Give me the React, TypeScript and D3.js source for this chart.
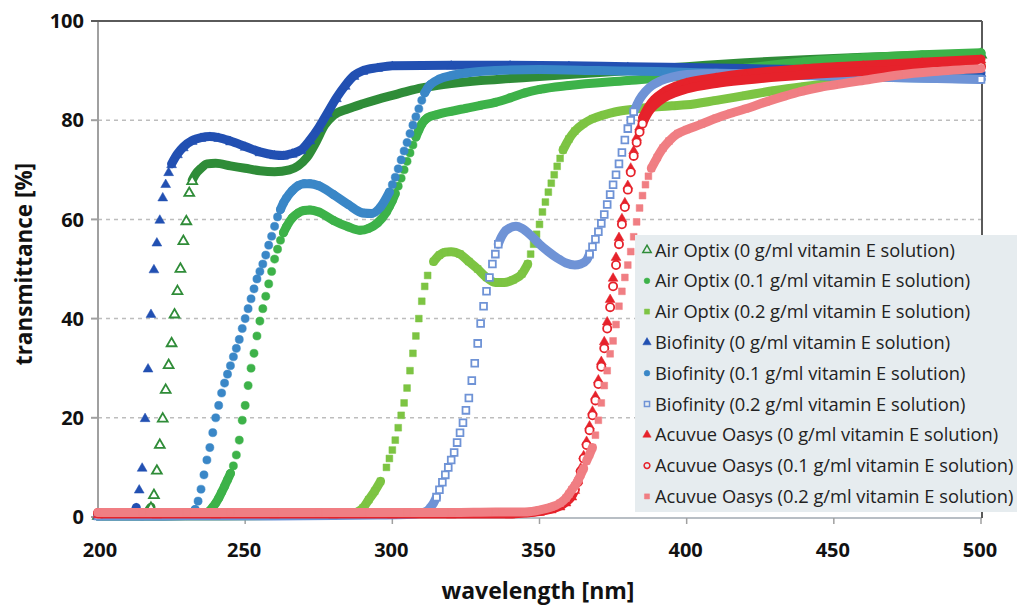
import React from 'react';
import * as d3 from 'd3';

type Pt = [number, number];

// wavelength [nm], transmittance [%]
const airOptix0: Pt[] = [[200,0.4],[210,0.4],[214,0.5],[216,0.8],[217,1.2],[218,2],[219,4.6],[220,9.5],[221,14.7],[222,20],[223,25.8],[224,30.8],[225,35.2],[226,41],[227,45.7],[228,50.2],[229,55.8],[230,59.8],[231,65.5],[232,67.9],[233,69],[235,70.3],[237,71.2],[240,71.3],[245,70.8],[250,70.3],[255,69.8],[260,69.6],[265,70],[268,70.8],[271,72.5],[274,75.5],[277,79],[280,81],[285,82.3],[290,83.3],[295,84.2],[300,85],[305,85.8],[310,86.5],[315,87],[320,87.4],[330,88],[340,88.4],[350,88.8],[360,89.2],[380,90],[400,90.8],[420,91.6],[440,92.2],[460,92.7],[480,93.1],[500,93.4]];

const airOptix01: Pt[] = [[200,0.2],[215,0.2],[230,0.3],[236,0.5],[237,0.8],[238,1.3],[239,2],[240,2.8],[241,3.8],[242,5],[243,6.2],[244,7.5],[245,8.8],[246,10.3],[247,12.5],[248,15.5],[249,19.5],[250,22.5],[251,26.5],[252,30],[253,33],[254,36.5],[255,39.5],[256,42],[257,44.5],[258,47],[259,49.5],[260,52],[261,54],[262,55.8],[263,57.3],[264,58.5],[266,60.3],[268,61.3],[270,61.8],[272,61.9],[275,61.5],[280,59.8],[285,58.5],[289,57.8],[292,58.2],[295,59.3],[298,61.5],[299,62.6],[300,63.8],[301,65.2],[302,66.7],[303,68.3],[304,70],[305,71.7],[306,73.4],[307,75],[308,76.6],[309,78],[310,79.2],[311,80],[312,80.5],[315,81.1],[320,81.8],[325,82.4],[330,83],[335,83.6],[340,84.5],[345,85.5],[350,86.2],[360,87],[380,88],[400,89],[420,90.5],[440,91.8],[460,92.6],[480,93.2],[500,93.6]];

const airOptix02: Pt[] = [[200,0.2],[220,0.2],[240,0.2],[260,0.3],[275,0.4],[285,0.6],[288,1],[290,1.8],[292,3.5],[294,5.2],[296,7.2],[298,10],[299,11.8],[300,13.5],[301,15.5],[302,18],[303,20.5],[304,23],[305,26],[306,29.5],[307,33],[308,36.5],[309,40],[310,43.5],[311,46.5],[312,48.7],[314,51.5],[316,52.8],[318,53.4],[320,53.5],[323,53],[326,51.5],[329,50],[332,48.3],[335,47.3],[338,47.3],[341,47.8],[344,49],[346,51],[347,53],[348,55],[349,57],[350,59],[351,61.5],[352,63.5],[353,65.5],[354,67.3],[355,69],[356,70.7],[357,72.3],[358,74],[360,76.2],[362,77.8],[365,79.3],[368,80.3],[372,81.1],[376,81.7],[382,82.2],[388,82.6],[395,82.9],[400,83.1],[410,84],[420,85],[430,86],[440,86.8],[450,87.5],[460,88.3],[470,89.1],[480,89.8],[490,90.5],[500,91.2]];

const biofinity0: Pt[] = [[200,0.3],[210,0.3],[212,0.6],[213,1.9],[214,5.6],[215,10],[216,20],[217,30],[218,41],[219,50],[220,55.4],[221,60],[222,64.5],[223,67.2],[224,69.6],[225,71.2],[227,73.2],[229,74.6],[232,75.9],[235,76.5],[238,76.7],[241,76.5],[245,75.8],[250,74.7],[255,73.6],[260,73],[263,72.9],[266,73.3],[269,74],[272,76],[275,78.5],[278,81.5],[281,84.5],[284,87],[287,89],[290,90],[295,90.6],[300,91],[320,91.1],[340,91.1],[360,91],[380,90.8],[400,90.6],[420,90.4],[440,90.2],[460,90],[480,89.8],[500,89.6]];

const biofinity01: Pt[] = [[200,0.2],[215,0.2],[230,0.3],[232,0.6],[233,1.5],[234,3.2],[235,5.6],[236,8.5],[237,11.5],[238,14],[239,17],[240,20],[241,22.5],[242,25],[243,27],[244,28.8],[245,30.5],[246,32.3],[247,34],[248,35.8],[249,38],[250,40],[251,42],[252,44],[253,46],[254,48],[255,49.5],[256,51],[257,52.8],[258,54.8],[259,56.6],[260,58.6],[261,60.5],[262,62],[263,63.3],[264,64.3],[266,65.8],[268,66.8],[270,67.2],[272,67.2],[275,66.8],[280,65],[285,63],[290,61.3],[293,61.2],[296,62.5],[299,65.5],[300,67],[301,68.5],[302,70.2],[303,72],[304,73.8],[305,75.5],[306,77.3],[307,79],[308,80.7],[309,82.3],[310,84],[311,85.5],[312,86.5],[313,87.2],[316,88.3],[320,89],[325,89.5],[335,90],[350,90.2],[370,90],[390,89.8],[410,89.5],[440,89],[470,88.6],[500,88.3]];

const biofinity02: Pt[] = [[200,0.2],[220,0.2],[240,0.2],[260,0.2],[280,0.3],[295,0.4],[305,0.5],[310,0.8],[312,1.3],[313,2],[314,2.8],[315,4],[316,5.5],[317,7],[318,8.5],[319,10],[320,11.5],[321,13],[322,15],[323,17],[324,19],[325,21.5],[326,24],[327,27.5],[328,31],[329,35],[330,39],[331,42.5],[332,45.5],[333,48.3],[334,51],[335,53],[336,55],[337,56.4],[338,57.4],[340,58.3],[342,58.6],[344,58.2],[347,56.8],[350,55],[353,53.5],[356,52.2],[359,51.2],[362,50.8],[364,51],[366,51.8],[367,53],[368,54.5],[369,56],[370,57.5],[371,59.2],[372,61],[373,63],[374,65],[375,67],[376,69],[377,71.2],[378,73.5],[379,76],[380,78.3],[381,80],[382,81.7],[383,83],[384,84.2],[386,85.8],[388,86.9],[391,87.9],[395,88.7],[400,89.2],[410,89.4],[430,89.2],[450,88.9],[470,88.6],[500,88.2]];

const acuvue0: Pt[] = [[200,0.6],[220,0.6],[240,0.6],[260,0.6],[280,0.6],[300,0.6],[320,0.6],[340,0.6],[345,0.8],[350,1.1],[354,1.6],[357,2.2],[359,3],[361,4.2],[362,5.5],[363,7.5],[364,10],[365,12.5],[366,15.4],[367,18.5],[368,21.5],[369,24.5],[370,27.8],[371,31.5],[372,35.5],[373,39.5],[374,44],[375,48.3],[376,52.5],[377,56.5],[378,60.3],[379,63.5],[380,67],[381,70.5],[382,74],[383,76.7],[384,78.8],[385,80.5],[387,82.7],[389,84.2],[392,85.6],[396,86.8],[400,87.6],[410,88.6],[420,89.4],[440,90.4],[460,91.1],[480,91.7],[500,92.3]];

const acuvue01: Pt[] = [[200,0.8],[220,0.8],[240,0.8],[260,0.8],[280,0.8],[300,0.8],[320,0.8],[345,0.9],[350,1.2],[354,1.7],[357,2.4],[359,3.2],[361,4.4],[362,5.5],[363,7],[364,9.2],[365,11.8],[366,14.5],[367,17.5],[368,20.5],[369,23.5],[370,26.8],[371,30.3],[372,34],[373,38],[374,42.3],[375,46.5],[376,50.8],[377,55],[378,59],[379,62.5],[380,66],[381,69.5],[382,72.8],[383,75.5],[384,77.6],[385,79.3],[387,81.6],[389,83],[392,84.4],[396,85.5],[400,86.3],[410,87.4],[420,88.1],[440,89.1],[460,89.8],[480,90.3],[500,90.8]];

const acuvue02: Pt[] = [[200,0.9],[215,0.9],[230,0.9],[245,0.9],[260,0.9],[275,0.9],[290,0.9],[305,0.9],[320,0.9],[335,1],[345,1],[350,1.4],[354,2],[357,2.8],[359,3.8],[360,4.6],[361,5.5],[362,6.3],[363,7.3],[364,8.5],[365,9.8],[366,11.3],[367,12.6],[368,14],[369,16.5],[370,19.5],[371,23],[372,26.5],[373,29.5],[374,32.9],[375,35.5],[376,38.8],[377,42.5],[378,45.5],[379,48.3],[380,50.8],[381,53.5],[382,56.5],[383,59.5],[384,62.3],[385,64.8],[386,67],[387,68.7],[388,70.3],[390,72.5],[392,74.4],[394,75.8],[397,77.3],[400,78.1],[405,79.2],[410,80.4],[415,81.4],[420,82.3],[427,83.7],[433,84.8],[439,85.8],[445,86.6],[450,87.1],[461,88.1],[472,89.1],[484,89.8],[500,90.4]];

const seriesNames = [
  'Air Optix (0 g/ml vitamin E solution)',
  'Air Optix (0.1 g/ml vitamin E solution)',
  'Air Optix (0.2 g/ml vitamin E solution)',
  'Biofinity (0 g/ml vitamin E solution)',
  'Biofinity (0.1 g/ml vitamin E solution)',
  'Biofinity (0.2 g/ml vitamin E solution)',
  'Acuvue Oasys (0 g/ml vitamin E solution)',
  'Acuvue Oasys (0.1 g/ml vitamin E solution)',
  'Acuvue Oasys (0.2 g/ml vitamin E solution)',
];
const seriesData = [airOptix0, airOptix01, airOptix02, biofinity0, biofinity01, biofinity02, acuvue0, acuvue01, acuvue02];
const seriesColors = ['#2f8c38', '#3db249', '#7dc443', '#2250b2', '#3a87c7', '#6f93d6', '#e6222b', '#e6222b', '#f07e83'];
const seriesShapes = ['triangle', 'circle', 'square', 'triangle', 'circle', 'square', 'triangle', 'circle', 'square'];
const seriesOpen = [true, false, false, false, false, true, false, true, false];

const xTicks = [200, 250, 300, 350, 400, 450, 500];
const yTicks = [0, 20, 40, 60, 80, 100];

const W = 1017, H = 605;
const left = 98, right = 981, top = 21, bottom = 517;

const x = d3.scaleLinear().domain([200, 500]).range([left, right]);
const y = d3.scaleLinear().domain([0, 100]).range([bottom, top]);

const symType: Record<string, d3.SymbolType> = {
  triangle: d3.symbolTriangle,
  circle: d3.symbolCircle,
  square: d3.symbolSquare,
};
const symSize: Record<string, number> = { triangle: 42, circle: 52, square: 46 };

const line = d3.line<Pt>().x(d => x(d[0])).y(d => y(d[1])).curve(d3.curveMonotoneX);

// split a series into runs where neighbouring markers overlap into a band
function splitRuns(pts: Pt[]) {
  const runs: Pt[][] = [];
  const joined: boolean[] = [];
  let cur: Pt[] = [pts[0]];
  for (let i = 1; i < pts.length; i++) {
    const dx = x(pts[i][0]) - x(pts[i - 1][0]);
    const dy = Math.abs(y(pts[i][1]) - y(pts[i - 1][1]));
    const j = dy < 2 * dx || Math.hypot(dx, dy) < 8;
    joined.push(j);
    if (j) cur.push(pts[i]);
    else { runs.push(cur); cur = [pts[i]]; }
  }
  runs.push(cur);
  return { runs, joined };
}

const font = "'Open Sans', 'DejaVu Sans', sans-serif";

const Series: React.FC<{ idx: number }> = ({ idx }) => {
  const pts = seriesData[idx];
  const color = seriesColors[idx];
  const shape = seriesShapes[idx];
  const open = seriesOpen[idx];
  const { runs, joined } = splitRuns(pts);
  const sym = d3.symbol().type(symType[shape]).size(symSize[shape])();
  return (
    <g>
      {runs.filter(r => r.length > 1).map((r, i) => (
        <path key={i} d={line(r) || ''} fill="none" stroke={color} strokeWidth={9}
          strokeLinecap="round" strokeLinejoin="round" />
      ))}
      {pts.map((p, i) => {
        const interior = (i > 0 && joined[i - 1]) && (i < pts.length - 1 && joined[i]);
        if (open && interior) return null;
        const dy = shape === 'triangle' ? 1 : 0;
        return (
          <path key={'m' + i} d={sym || ''} transform={`translate(${x(p[0])},${y(p[1]) + dy})`}
            fill={open ? '#fff' : color} stroke={color} strokeWidth={open ? 1.8 : 0.5} />
        );
      })}
    </g>
  );
};

export default function App() {
  const legX = 635, legY = 235, legW = 382, legH = 277, rowH = 30.8;
  return (
    <svg width={W} height={H} style={{ position: 'absolute', left: 0, top: 0, background: '#fff' }}>
      {/* grid */}
      {yTicks.filter(t => t > 0 && t < 100).map(t => (
        <line key={t} x1={left} x2={right} y1={y(t)} y2={y(t)} stroke="#bdbdbd"
          strokeWidth={1.5} strokeDasharray="4,4" />
      ))}
      {/* axes frame */}
      <line x1={left} x2={left} y1={top} y2={bottom + 2} stroke="#a0a0a0" strokeWidth={2} />
      <line x1={left} x2={right + 1} y1={bottom + 1} y2={bottom + 1} stroke="#b8bec4" strokeWidth={2} />
      {yTicks.map(t => (
        <line key={'yt' + t} x1={left - 7} x2={left} y1={y(t)} y2={y(t)} stroke="#a0a0a0" strokeWidth={2} />
      ))}
      {xTicks.slice(1).map(t => (
        <line key={'xt' + t} x1={x(t)} x2={x(t)} y1={bottom + 1} y2={bottom + 7} stroke="#a0a0a0" strokeWidth={1.5} />
      ))}
      <line x1={left - 7} x2={right + 1} y1={top} y2={top} stroke="#5a5a5a" strokeWidth={2} />
      <line x1={right + 1} x2={right + 1} y1={top} y2={bottom + 1} stroke="#5a5a5a" strokeWidth={2} />

      {/* data */}
      {seriesData.map((_, i) => <Series key={i} idx={i} />)}

      {/* tick labels */}
      {yTicks.map(t => (
        <text key={'yl' + t} x={84} y={y(t)} dy="0.36em" textAnchor="end" fontFamily={font}
          fontWeight={700} fontSize={20} fill="#111">{t}</text>
      ))}
      {xTicks.map(t => (
        <text key={'xl' + t} x={x(t) + (t === 200 ? 2 : -1)} y={557} textAnchor="middle" fontFamily={font}
          fontWeight={700} fontSize={20} fill="#111">{t}</text>
      ))}
      <text x={538} y={599} textAnchor="middle" fontFamily={font} fontWeight={700} fontSize={23} fill="#111">
        wavelength [nm]
      </text>
      <text transform="translate(32,264) rotate(-90)" textAnchor="middle" fontFamily={font}
        fontWeight={700} fontSize={22.5} fill="#111">transmittance [%]</text>

      {/* legend */}
      <rect x={legX} y={legY} width={legW} height={legH} fill="#e6ecef" />
      {seriesNames.map((name, i) => {
        const cy = 250 + i * rowH;
        const shape = seriesShapes[i];
        const sym = d3.symbol().type(symType[shape]).size(shape === 'triangle' ? 30 : 26)();
        return (
          <g key={name}>
            <path d={sym || ''} transform={`translate(647,${cy})`}
              fill={seriesOpen[i] ? '#e6ecef' : seriesColors[i]} stroke={seriesColors[i]}
              strokeWidth={seriesOpen[i] ? 1.5 : 0.5} />
            <text x={655} y={cy} dy="0.36em" fontFamily={font} fontSize={18.3} fill="#222">{name}</text>
          </g>
        );
      })}
    </svg>
  );
}
